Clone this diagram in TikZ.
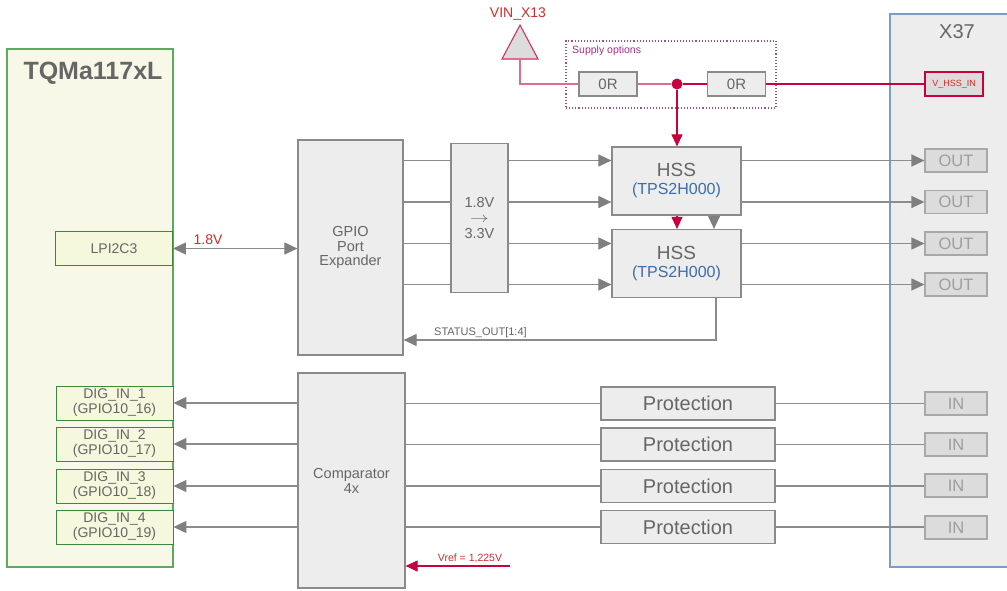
\documentclass[tikz,border=0pt]{standalone}
\usepackage{fontspec}
\setmainfont{Liberation Sans}
\usetikzlibrary{arrows.meta,calc}
\definecolor{lgray}{HTML}{8C8C8C}
\definecolor{agray}{HTML}{7F7F7F}
\definecolor{boxfill}{HTML}{EDEDED}
\definecolor{boxdraw}{HTML}{8A8A8A}
\definecolor{txt}{HTML}{666666}
\definecolor{crim}{HTML}{C8003C}
\definecolor{pinkl}{HTML}{E06A8C}
\definecolor{redtxt}{HTML}{D42A2A}
\definecolor{tqmfill}{HTML}{F7F8E8}
\definecolor{tqmdraw}{HTML}{5FA85F}
\definecolor{digfill}{HTML}{F5F8DC}
\definecolor{digdraw}{HTML}{3A8A3A}
\definecolor{xblue}{HTML}{7A9CC8}
\definecolor{pinfill}{HTML}{DCDCDC}
\definecolor{pindraw}{HTML}{A8A8A8}
\definecolor{pintxt}{HTML}{9E9E9E}
\definecolor{hssblue}{HTML}{3A6EA8}
\definecolor{purp}{HTML}{A03090}
\definecolor{purpd}{HTML}{A0508A}
\tikzset{
  fs/.style={font=\fontsize{#1}{#1}\selectfont},
  gbox/.style={draw=boxdraw, fill=boxfill, line width=1.2pt, inner sep=0pt, text=txt, align=center},
  digbox/.style={draw=digdraw, fill=digfill, line width=0.9pt, inner sep=0pt, text=txt, align=center, minimum width=117pt, minimum height=34pt, font=\fontsize{14}{15}\selectfont},
  pinbox/.style={draw=pindraw, fill=pinfill, line width=1.1pt, inner sep=0pt, text=pintxt, minimum width=62pt, minimum height=23pt, fs=16.5},
  protbox/.style={gbox, minimum width=174pt, minimum height=33pt, fs=20},
  rbox/.style={gbox, minimum width=58pt, minimum height=24pt, fs=15},
  hssbox/.style={gbox, minimum width=129pt, minimum height=68pt, font=\fontsize{16}{18}\selectfont},
  wire/.style={draw=lgray, line width=1.1pt},
  arr/.style={wire, -{Triangle[length=13pt,width=12pt,fill=agray,color=agray]}},
  arrboth/.style={wire, {Triangle[length=13pt,width=12pt,fill=agray,color=agray]}-{Triangle[length=13pt,width=12pt,fill=agray,color=agray]}},
  redarr/.style={draw=crim, line width=1.1pt, -{Triangle[length=12pt,width=11pt,fill=crim,color=crim]}},
  redwire/.style={draw=crim, line width=1.1pt},
  pinkwire/.style={draw=pinkl, line width=1.1pt},
}
\begin{document}
\begin{tikzpicture}[x=1pt,y=-1pt]
\useasboundingbox (0,0) rectangle (1007,590);
% big blocks
\node[draw=tqmdraw, fill=tqmfill, line width=1.1pt, minimum width=166pt, minimum height=518pt, inner sep=0pt] (tqm) at (90,308) {};
\node[text=txt, font=\bfseries\fontsize{25}{26}\selectfont] (tqmtitle) at (93,73) {TQMa117xL};
\node[draw=xblue, fill=boxfill, line width=1.4pt, minimum width=124pt, minimum height=553pt, inner sep=0pt] (x37) at (952,290.5) {};
\node[text=txt, fs=20] (x37title) at (957,32) {X37};
% left side
\node[digbox] (lpi) at (114,248.5) {LPI2C3};
\node[digbox] (dig1) at (114.5,403) {DIG\_IN\_1\\(GPIO10\_16)};
\node[digbox] (dig2) at (114.5,444) {DIG\_IN\_2\\(GPIO10\_17)};
\node[digbox] (dig3) at (114.5,486) {DIG\_IN\_3\\(GPIO10\_18)};
\node[digbox] (dig4) at (114.5,527) {DIG\_IN\_4\\(GPIO10\_19)};
% middle blocks
\node[gbox, minimum width=105pt, minimum height=215pt, font=\fontsize{14.5}{14.5}\selectfont] (gpio) at (350.5,247.5) {GPIO\\Port\\Expander};
\node[gbox, minimum width=57pt, minimum height=149pt, font=\fontsize{14.5}{14.5}\selectfont] (ls) at (479.5,218) {1.8V\\[1pt]\scalebox{1.3}[1]{$\rightarrow$}\\[1pt]3.3V};
\node[hssbox] (hss1) at (676.5,181) {{\fontsize{19}{20}\selectfont HSS}\\{\color{hssblue}(TPS2H000)}};
\node[hssbox] (hss2) at (676.5,263.5) {{\fontsize{19}{20}\selectfont HSS}\\{\color{hssblue}(TPS2H000)}};
\node[gbox, minimum width=107pt, minimum height=215pt, font=\fontsize{14.5}{15}\selectfont] (comp) at (351.5,480.5) {Comparator\\4x};
\node[protbox] (prot1) at (688,403.5) {Protection};
\node[protbox] (prot2) at (688,444.5) {Protection};
\node[protbox] (prot3) at (688,486) {Protection};
\node[protbox] (prot4) at (688,527) {Protection};
% connector pins
\node[pinbox] (out1) at (956,160.5) {OUT};
\node[pinbox] (out2) at (956,202) {OUT};
\node[pinbox] (out3) at (956,243.5) {OUT};
\node[pinbox] (out4) at (956,284.5) {OUT};
\node[pinbox] (in1) at (956,403.5) {IN};
\node[pinbox] (in2) at (956,444.5) {IN};
\node[pinbox] (in3) at (956,485.5) {IN};
\node[pinbox] (in4) at (956,527.5) {IN};
\node[draw=crim, fill=pinfill, line width=1.1pt, inner sep=0pt, minimum width=58pt, minimum height=24pt, text=redtxt, font=\fontsize{9}{9}\selectfont] (vhss) at (954,84) {V\_HSS\_IN};
% supply options
\node[draw=purpd, dotted, line width=1.1pt, minimum width=210pt, minimum height=67pt, inner sep=0pt] (sup) at (671,74.5) {};
\node[text=purp, fs=10.5, anchor=west, inner sep=0pt] (suplbl) at (572,51) {Supply options};
\node[rbox] (r1) at (608,84) {0R};
\node[rbox] (r2) at (736.5,84) {0R};
\node[circle, fill=crim, inner sep=0pt, minimum size=11pt] (dot) at (677,84) {};
% VIN triangle
\draw[draw=crim!80, fill=pinfill, line width=1.1pt] (520,25) -- (538,59) -- (502,59) -- cycle;
\coordinate (vin) at (520,59);
\node[text=redtxt, fs=14] (vinlbl) at (518,14) {VIN\_X13};
% supply wiring
\draw[pinkwire] (vin) |- (r1.west);
\draw[pinkwire] (r1.east) -- (dot);
\draw[redwire] (dot) -- (r2.west);
\draw[redwire] (r2.east) -- (vhss.west);
\draw[redarr] (dot) -- (hss1.north -| dot);
\draw[redarr] (hss1.south -| dot) -- (hss2.north -| dot);
\coordinate (stx) at (714,340);
\draw[arr] (hss1.south -| stx) -- (hss2.north -| stx);
% GPIO to HSS
\foreach \o/\h in {out1/hss1, out2/hss1, out3/hss2, out4/hss2}{
  \draw[wire] (gpio.east |- \o) -- (ls.west |- \o);
  \draw[arr] (ls.east |- \o) -- (\h.west |- \o);
  \draw[arr] (\h.east |- \o) -- (\o.west);
}
% status
\coordinate (st) at (716,340);
\draw[arr] (hss2.south -| st) -- (st) -- (gpio.east |- st);
\node[text=txt, fs=11, anchor=west, inner sep=0pt] (stlbl) at (434,333) {STATUS\_OUT[1:4]};
% I2C
\draw[arrboth] (lpi.east) -- (gpio.west |- lpi.east);
\node[text=redtxt, fs=14] (i2clbl) at (208,240) {1.8V};
% digital inputs
\foreach \d/\p/\i in {dig1/prot1/in1, dig2/prot2/in2, dig3/prot3/in3, dig4/prot4/in4}{
  \draw[arr] (comp.west |- \d) -- (\d.east);
  \draw[wire] (comp.east |- \p) -- (\p.west);
  \draw[wire] (\p.east) -- (\i.west |- \p);
}
% vref
\coordinate (vr) at (510,566);
\draw[redarr] (vr) -- (comp.east |- vr);
\node[text=redtxt, fs=10.5] (vrlbl) at (470,558) {Vref = 1,225V};
\end{tikzpicture}
\end{document}
